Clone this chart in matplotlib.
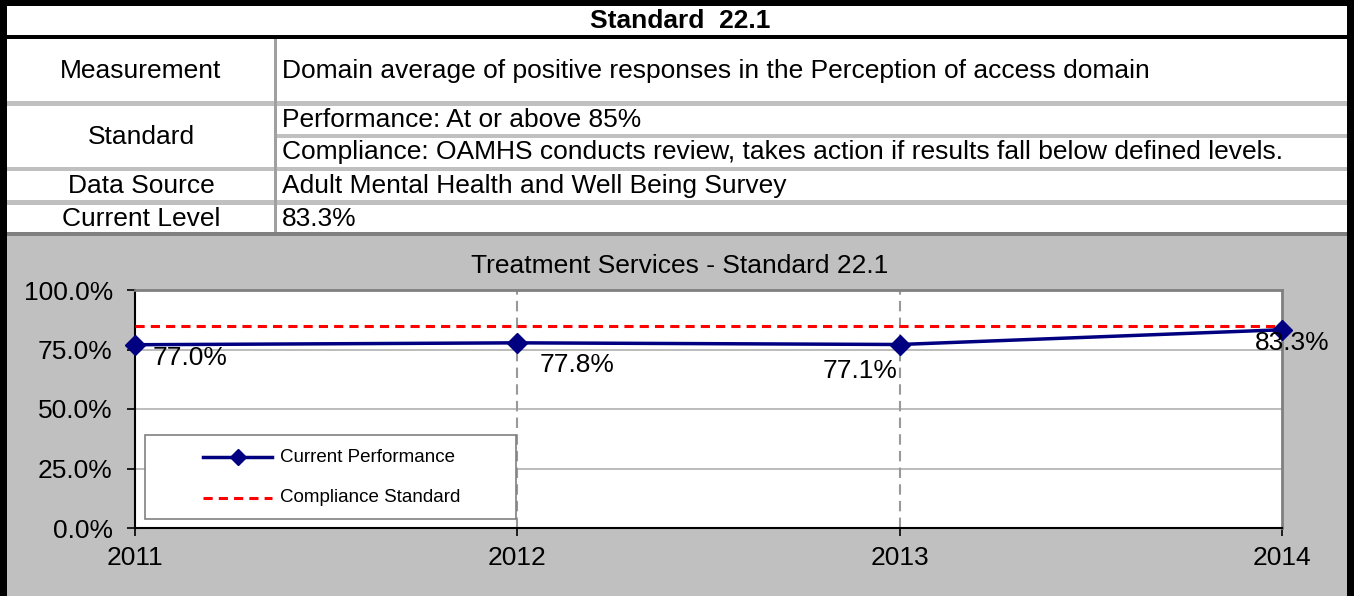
import matplotlib
matplotlib.use("Agg")
import matplotlib.pyplot as plt
from matplotlib.patches import Rectangle
from matplotlib.lines import Line2D

plt.rcParams['font.family'] = ['Liberation Sans', 'DejaVu Sans']

# ---- data ----
years = [2011, 2012, 2013, 2014]
performance = [77.0, 77.8, 77.1, 83.3]
compliance_standard = 85.0
y_ticks = [0, 25, 50, 75, 100]
y_tick_labels = ["0.0%", "25.0%", "50.0%", "75.0%", "100.0%"]
series_names = ["Current Performance", "Compliance Standard"]

table_title = "Standard  22.1"
row_labels = ["Measurement", "Standard", "Data Source", "Current Level"]
measurement_text = "Domain average of positive responses in the Perception of access domain"
standard_texts = ["Performance: At or above 85%",
                  "Compliance: OAMHS conducts review, takes action if results fall below defined levels."]
data_source_text = "Adult Mental Health and Well Being Survey"
current_level_text = "83.3%"
chart_title = "Treatment Services - Standard 22.1"

W, H = 1354, 596
fig = plt.figure(figsize=(W / 100, H / 100), dpi=100)

def pixel_axes(z):
    a = fig.add_axes([0, 0, 1, 1], zorder=z)
    a.set_xlim(0, W)
    a.set_ylim(H, 0)
    a.axis("off")
    a.patch.set_alpha(0)
    return a

# background layer in pixel coordinates (y grows downward)
bg = pixel_axes(0)

LIGHT = "#C0C0C0"
DIV = "#A0A0A0"
NAVY = "#000080"
RED = "#FF0000"

def rect(a, x0, y0, x1, y1, color, z=1, edge="none", lw=0):
    a.add_patch(Rectangle((x0, y0), x1 - x0, y1 - y0, facecolor=color,
                          edgecolor=edge, linewidth=lw, zorder=z))

# white table area and grey chart area
rect(bg, 0, 0, W, 236, "white")
rect(bg, 0, 236, W, H, LIGHT)

# row separators
rect(bg, 7, 35, W, 39, "black")
rect(bg, 7, 101, W, 106, LIGHT)
rect(bg, 277, 134, W, 138, LIGHT)
rect(bg, 7, 167, W, 171, LIGHT)
rect(bg, 7, 200, W, 205, LIGHT)
rect(bg, 7, 232, W, 236, "#808080")
# column divider
rect(bg, 274, 39, 277, 232, DIV)

# outer black frame
rect(bg, 0, 0, 7, H, "black")
rect(bg, W - 7, 0, W, H, "black")
rect(bg, 0, 0, W, 6, "black")

fs = 19
bg.text(680, 21, table_title, ha="center", va="center", fontsize=fs,
        fontweight="bold", zorder=3)

left_cx = 141
bg.text(left_cx, 71, row_labels[0], ha="center", va="center", fontsize=fs, zorder=3)
bg.text(left_cx, 137, row_labels[1], ha="center", va="center", fontsize=fs, zorder=3)
bg.text(left_cx, 186, row_labels[2], ha="center", va="center", fontsize=fs, zorder=3)
bg.text(left_cx, 219, row_labels[3], ha="center", va="center", fontsize=fs, zorder=3)

tx = 282
bg.text(tx, 71, measurement_text, ha="left", va="center", fontsize=fs, zorder=3)
bg.text(tx, 120, standard_texts[0], ha="left", va="center", fontsize=fs, zorder=3)
bg.text(tx, 152, standard_texts[1], ha="left", va="center", fontsize=fs, zorder=3)
bg.text(tx, 186, data_source_text, ha="left", va="center", fontsize=fs, zorder=3)
bg.text(tx, 219, current_level_text, ha="left", va="center", fontsize=fs, zorder=3)

bg.text(680, 266, chart_title, ha="center", va="center", fontsize=19, zorder=3)

# ---- chart ----
px0, px1, py_top, py_bot = 135, 1282, 290, 528
ax = fig.add_axes([px0 / W, (H - py_bot) / H, (px1 - px0) / W, (py_bot - py_top) / H],
                  zorder=1)
ax.set_facecolor("white")
ax.set_xlim(years[0], years[-1])
ax.set_ylim(0, 100)

for s in ("top", "right"):
    ax.spines[s].set_color("#808080")
    ax.spines[s].set_linewidth(2)
for s in ("left", "bottom"):
    ax.spines[s].set_color("black")
    ax.spines[s].set_linewidth(1.5)

ax.set_yticks(y_ticks)
ax.set_yticklabels(y_tick_labels)
ax.set_xticks(years)
ax.set_xticklabels([str(y) for y in years])
ax.tick_params(axis="both", direction="out", length=6, width=1.2, color="black",
               labelsize=19)
ax.tick_params(axis="y", pad=10)
ax.tick_params(axis="x", pad=7)

for yv in y_ticks[1:-1]:
    ax.axhline(yv, color="#B0B0B0", lw=1.2, zorder=1)
for xv in years[1:-1]:
    ax.axvline(xv, color="#999999", lw=1.5, ls=(0, (5, 3)), zorder=1)

ax.axhline(compliance_standard, color=RED, lw=2.2, ls=(0, (3, 2)), zorder=3)
ax.plot(years, performance, color=NAVY, lw=2.5, marker="D", markersize=10.5,
        markerfacecolor=NAVY, markeredgecolor=NAVY, zorder=4, clip_on=False)

offsets = [(18, -13), (22, -22), (-2, -26), (10, -13)]
aligns = ["left", "left", "right", "center"]
for x, v, off, ha in zip(years, performance, offsets, aligns):
    ax.annotate(f"{v:.1f}%", (x, v), xytext=off, textcoords="offset pixels",
                ha=ha, va="center", fontsize=19, zorder=5, annotation_clip=False)

# legend box, drawn on an overlay in figure pixels
ov = pixel_axes(2)
rect(ov, 145, 435, 516, 519, "white", z=6, edge="#808080", lw=1.2)
leg_rows = [457, 498]
ov.add_line(Line2D([203, 272], [leg_rows[0]] * 2, color=NAVY, lw=2.5, zorder=7))
ov.add_line(Line2D([237.5], [leg_rows[0]], color=NAVY, marker="D", markersize=8.5,
                   zorder=7))
ov.add_line(Line2D([203, 272], [leg_rows[1]] * 2, color=RED, lw=2.2,
                   ls=(0, (3, 2)), zorder=7))
for yy, name in zip(leg_rows, series_names):
    ov.text(280, yy, name, ha="left", va="center", fontsize=13.5, zorder=7)

fig.savefig("out.png", dpi=100)
